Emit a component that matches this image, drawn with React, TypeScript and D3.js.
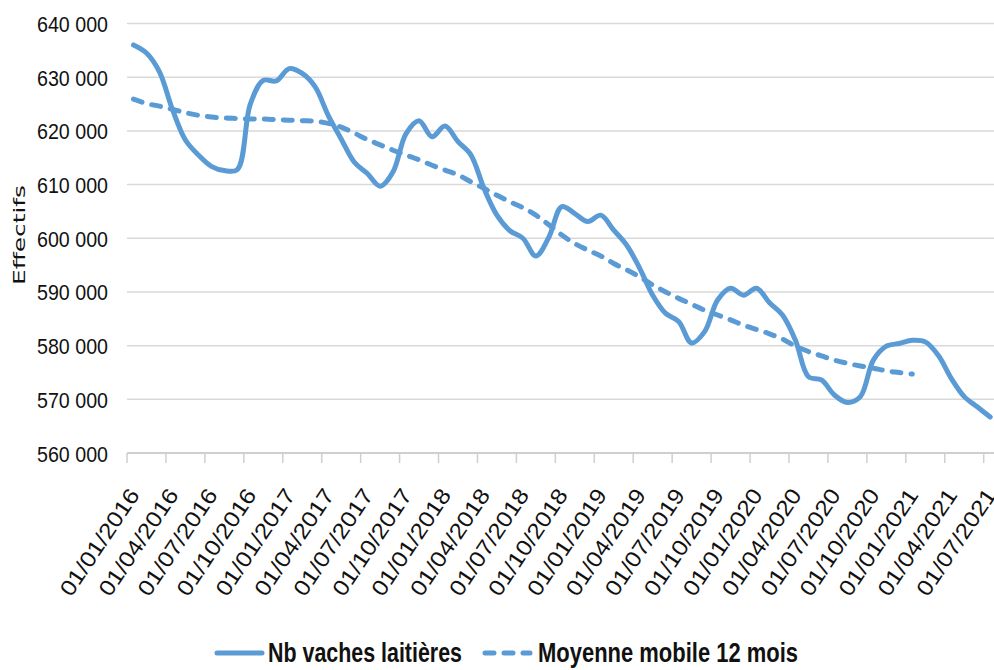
import * as React from 'react'
import {select, scaleBand, scaleLinear, line, curveCatmullRom, timeMonth, timeFormat, formatLocale} from 'd3'

const {useRef, useEffect} = React

// mois de janvier 2016 à juillet 2021
const mois = timeMonth.range(new Date(2016, 0, 1), new Date(2021, 7, 1)).map(timeFormat('%d/%m/%Y'))

const etiquettes = [
  '01/01/2016', '01/04/2016', '01/07/2016', '01/10/2016',
  '01/01/2017', '01/04/2017', '01/07/2017', '01/10/2017',
  '01/01/2018', '01/04/2018', '01/07/2018', '01/10/2018',
  '01/01/2019', '01/04/2019', '01/07/2019', '01/10/2019',
  '01/01/2020', '01/04/2020', '01/07/2020', '01/10/2020',
  '01/01/2021', '01/04/2021', '01/07/2021',
]

const yTicks = [560000, 570000, 580000, 590000, 600000, 610000, 620000, 630000, 640000]

// Nb vaches laitières
const vaches = [
  636000, 634500, 631000, 624000, 618300, 615500, 613400, 612600, 612800, 625000, 629400, 629300,
  631600, 630700, 628200, 622900, 618500, 614200, 612100, 609700, 612400, 619500, 621900, 618900,
  620900, 618000, 615500, 609300, 604300, 601400, 600000, 596700, 600200, 605900, 604600, 603100,
  604300, 601500, 598700, 594400, 589400, 586000, 584500, 580500, 582600, 588500, 590700, 589400,
  590700, 588000, 585700, 581000, 574200, 573600, 570800, 569400, 570500, 577300, 579900, 580400,
  581000, 580700, 578200, 573900, 570500, 568600, 566700,
]

// Moyenne mobile 12 mois
const moyenne = [
  625900, 625100, 624600, 624000, 623400, 622900, 622600, 622400, 622300, 622200, 622200, 622100,
  622000, 621900, 621800, 621400, 620700, 619600, 618400, 617400, 616400, 615500, 614600, 613600,
  612700, 611800, 610500, 609300, 608000, 606800, 605700, 604300, 602500, 600600, 599000, 597800,
  596700, 595300, 594100, 592800, 591300, 590000, 588800, 587700, 586600, 585700, 584800, 583800,
  583000, 582200, 581200, 579900, 578900, 578100, 577300, 576700, 576200, 575800, 575300, 575000,
  574700,
]

const BLEU = '#5b9bd5'
const fmt = formatLocale({decimal: ',', thousands: ' ', grouping: [3], currency: ['', '']}).format(',')

export default function App() {
  const ref = useRef(null)

  useEffect(() => {
    const svg = select(ref.current)
    svg.selectAll('*').remove()

    const x = scaleBand().domain(mois).range([127, 127 + 67 * 12.98])
    const y = scaleLinear().domain([560000, 640000]).range([453, 23.5])
    const cx = (i) => x(mois[i]) + x.bandwidth() / 2

    // grille
    svg.append('g')
      .selectAll('line')
      .data(yTicks.slice(1))
      .join('line')
      .attr('x1', 127).attr('x2', 1000)
      .attr('y1', d => y(d)).attr('y2', d => y(d))
      .attr('stroke', '#d9d9d9').attr('stroke-width', 1.5)

    svg.append('g')
      .selectAll('text')
      .data(yTicks)
      .join('text')
      .attr('x', 37).attr('y', d => y(d) + 8.5)
      .attr('textLength', 71).attr('lengthAdjust', 'spacingAndGlyphs')
      .attr('font-family', 'Liberation Sans, Arial, sans-serif')
      .attr('font-size', 22).attr('fill', '#111')
      .text(d => fmt(d))

    // axe des x
    svg.append('line')
      .attr('x1', 127).attr('x2', 1000)
      .attr('y1', y(560000)).attr('y2', y(560000))
      .attr('stroke', '#cfcfcf').attr('stroke-width', 2)

    svg.append('g')
      .selectAll('line')
      .data(etiquettes)
      .join('line')
      .attr('x1', d => x(d)).attr('x2', d => x(d))
      .attr('y1', y(560000)).attr('y2', y(560000) + 10)
      .attr('stroke', '#cfcfcf').attr('stroke-width', 1.5)

    svg.append('g')
      .selectAll('text')
      .data(etiquettes)
      .join('text')
      .attr('transform', d => `translate(${x(d) + x.bandwidth() / 2 + 7},495) rotate(-56)`)
      .attr('x', -124)
      .attr('textLength', 124).attr('lengthAdjust', 'spacingAndGlyphs')
      .attr('font-family', 'Liberation Sans, Arial, sans-serif')
      .attr('font-size', 22).attr('fill', '#111')
      .text(d => d)

    // titre de l'axe
    svg.append('text')
      .attr('transform', 'translate(25,285) rotate(-90)')
      .attr('textLength', 100).attr('lengthAdjust', 'spacingAndGlyphs')
      .attr('font-family', 'DejaVu Sans, sans-serif')
      .attr('font-size', 16).attr('fill', '#111')
      .text('Effectifs')

    // courbes
    const courbe = line().x((d, i) => cx(i)).y(d => y(d)).curve(curveCatmullRom.alpha(0.5))

    svg.append('path')
      .attr('d', courbe(moyenne))
      .attr('fill', 'none').attr('stroke', BLEU).attr('stroke-width', 5)
      .attr('stroke-dasharray', '9 10').attr('stroke-linecap', 'round')

    svg.append('path')
      .attr('d', courbe(vaches))
      .attr('fill', 'none').attr('stroke', BLEU).attr('stroke-width', 5)
      .attr('stroke-linecap', 'round').attr('stroke-linejoin', 'round')

    // légende
    const legende = svg.append('g')
    legende.append('line')
      .attr('x1', 217).attr('x2', 262).attr('y1', 653).attr('y2', 653)
      .attr('stroke', BLEU).attr('stroke-width', 5).attr('stroke-linecap', 'round')
    legende.append('text')
      .attr('x', 268).attr('y', 662)
      .attr('textLength', 194).attr('lengthAdjust', 'spacingAndGlyphs')
      .attr('font-family', 'Liberation Sans, Arial, sans-serif')
      .attr('font-size', 28).attr('font-weight', 'bold').attr('fill', '#111')
      .text('Nb vaches laitières')
    legende.append('line')
      .attr('x1', 485).attr('x2', 530).attr('y1', 653).attr('y2', 653)
      .attr('stroke', BLEU).attr('stroke-width', 5)
      .attr('stroke-dasharray', '9 10').attr('stroke-linecap', 'round')
    legende.append('text')
      .attr('x', 538).attr('y', 662)
      .attr('textLength', 260).attr('lengthAdjust', 'spacingAndGlyphs')
      .attr('font-family', 'Liberation Sans, Arial, sans-serif')
      .attr('font-size', 28).attr('font-weight', 'bold').attr('fill', '#111')
      .text('Moyenne mobile 12 mois')
  }, [])

  return <svg ref={ref} width={994} height={670} style={{position: 'absolute', left: 0, top: 0, background: '#fff'}} />
}
